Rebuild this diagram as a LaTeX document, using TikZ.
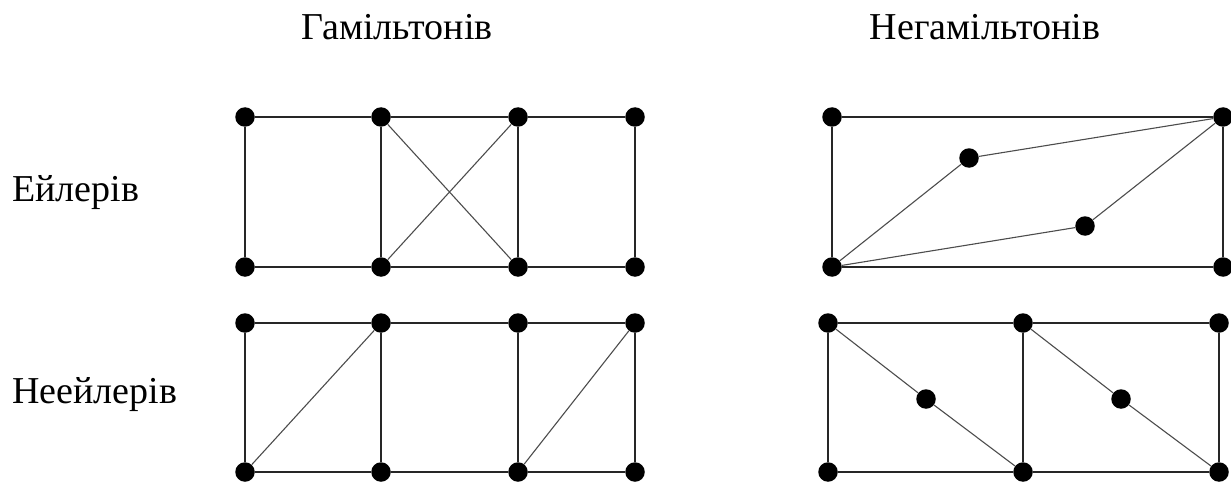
\documentclass[tikz,border=0pt]{standalone}
\usepackage{fontspec}
\setmainfont{Liberation Serif}
\begin{document}
\begin{tikzpicture}[x=1pt,y=-1pt,
  vtx/.style={circle,fill=black,inner sep=0pt,minimum size=19.5pt},
  edge/.style={line width=1.7pt,black!85},
  diag/.style={line width=1.1pt,black!70},
  lbl/.style={inner sep=0pt,font=\fontsize{38}{42}\selectfont}]
\useasboundingbox (0,0) rectangle (1231,484);
% labels
\node[lbl,anchor=base] (t1) at (397,40) {Гамільтонів};
\node[lbl,anchor=base] (t2) at (985,40) {Негамільтонів};
\node[lbl,anchor=base west] (r1) at (12,201) {Ейлерів};
\node[lbl,anchor=base west] (r2) at (12,403) {Неейлерів};
% graph A (top-left)
\node[vtx] (a1) at (245,117) {};
\node[vtx] (a2) at (381,117) {};
\node[vtx] (a3) at (518,117) {};
\node[vtx] (a4) at (635,117) {};
\node[vtx] (a5) at (245,267) {};
\node[vtx] (a6) at (381,267) {};
\node[vtx] (a7) at (518,267) {};
\node[vtx] (a8) at (635,267) {};
\draw[edge] (a1)--(a2) (a2)--(a3) (a3)--(a4) (a5)--(a6) (a6)--(a7) (a7)--(a8)
  (a1)--(a5) (a2)--(a6) (a3)--(a7) (a4)--(a8);
\draw[diag] (a2)--(a7) (a3)--(a6);
% graph B (top-right)
\node[vtx] (b1) at (832,117) {};
\node[vtx] (b2) at (1223,117) {};
\node[vtx] (b3) at (969,158) {};
\node[vtx] (b4) at (1085,226) {};
\node[vtx] (b5) at (832,267) {};
\node[vtx] (b6) at (1223,267) {};
\draw[edge] (b1)--(b2) (b5)--(b6) (b1)--(b5) (b2)--(b6);
\draw[diag] (b5)--(b3) (b3)--(b2) (b5)--(b4) (b4)--(b2);
% graph C (bottom-left)
\node[vtx] (c1) at (245,323) {};
\node[vtx] (c2) at (381,323) {};
\node[vtx] (c3) at (518,323) {};
\node[vtx] (c4) at (635,323) {};
\node[vtx] (c5) at (245,472) {};
\node[vtx] (c6) at (381,472) {};
\node[vtx] (c7) at (518,472) {};
\node[vtx] (c8) at (635,472) {};
\draw[edge] (c1)--(c2) (c2)--(c3) (c3)--(c4) (c5)--(c6) (c6)--(c7) (c7)--(c8)
  (c1)--(c5) (c2)--(c6) (c3)--(c7) (c4)--(c8);
\draw[diag] (c5)--(c2) (c7)--(c4);
% graph D (bottom-right)
\node[vtx] (d1) at (828,323) {};
\node[vtx] (d2) at (1023,323) {};
\node[vtx] (d3) at (1219,323) {};
\node[vtx] (d4) at (828,472) {};
\node[vtx] (d5) at (1023,472) {};
\node[vtx] (d6) at (1219,472) {};
\node[vtx] (d7) at (926,399) {};
\node[vtx] (d8) at (1121,399) {};
\draw[edge] (d1)--(d2) (d2)--(d3) (d4)--(d5) (d5)--(d6) (d1)--(d4) (d2)--(d5) (d3)--(d6);
\draw[diag] (d1)--(d7) (d7)--(d5) (d2)--(d8) (d8)--(d6);
\end{tikzpicture}
\end{document}
